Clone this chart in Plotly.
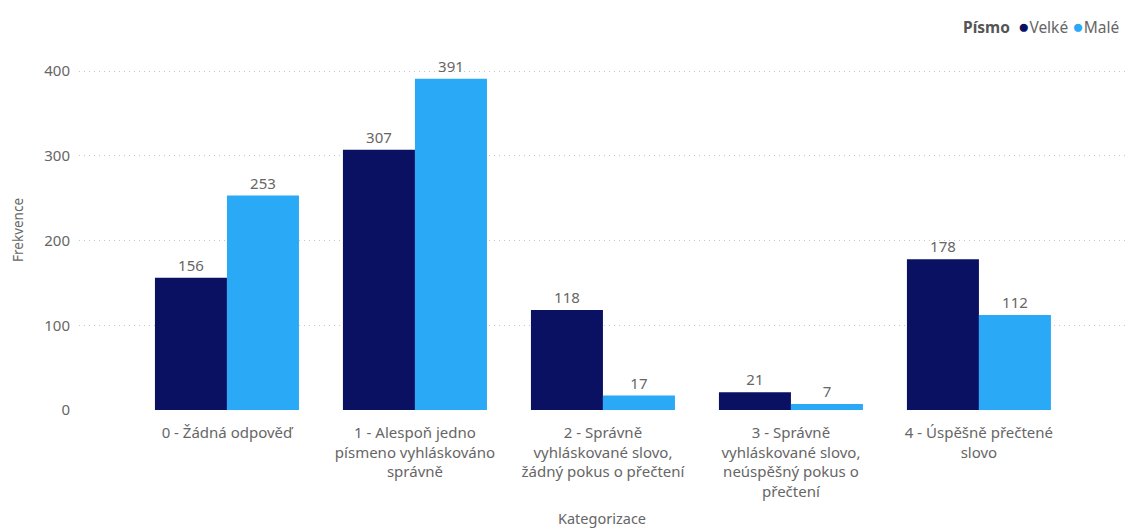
import plotly.graph_objects as go

categories = [
    "0 - Žádná odpověď",
    "1 - Alespoň jedno<br>písmeno vyhláskováno<br>správně",
    "2 - Správně<br>vyhláskované slovo,<br>žádný pokus o přečtení",
    "3 - Správně<br>vyhláskované slovo,<br>neúspěšný pokus o<br>přečtení",
    "4 - Úspěšně přečtené<br>slovo",
]
velke = [156, 307, 118, 21, 178]
male = [253, 391, 17, 7, 112]
y_ticks = [0, 100, 200, 300, 400]

COLOR_VELKE = "#0A1162"
COLOR_MALE = "#29A9F6"
TEXT_GRAY = "#666666"
FONT = "Segoe UI, Noto Sans, sans-serif"

x_pos = list(range(len(categories)))

fig = go.Figure()
for name, vals, color in [("Velké", velke, COLOR_VELKE), ("Malé", male, COLOR_MALE)]:
    fig.add_trace(go.Bar(
        x=x_pos, y=vals, name=name,
        marker=dict(color=color, line=dict(width=0)),
        text=[str(v) for v in vals], textposition="outside",
        textfont=dict(color=TEXT_GRAY, size=15, family=FONT),
        cliponaxis=False, showlegend=False,
    ))

fig.update_layout(
    width=1125, height=529,
    margin=dict(l=79, r=0, t=50, b=119),
    paper_bgcolor="white", plot_bgcolor="white",
    barmode="group", bargap=0.234, bargroupgap=0,
    font=dict(family=FONT, color=TEXT_GRAY, size=15),
    showlegend=False,
)

# legend drawn as a single line of text in the top-right corner
fig.add_annotation(
    xref="paper", yref="paper", x=1.0, y=1.0, yshift=24, xshift=-4,
    xanchor="right", yanchor="middle", showarrow=False,
    text=(
        "<b><span style='color:#555555'>Písmo</span></b>  "
        f"<span style='color:{COLOR_VELKE};font-size:19px'>●</span>Velké "
        f"<span style='color:{COLOR_MALE};font-size:19px'>●</span>Malé"
    ),
    font=dict(size=15.5, color=TEXT_GRAY, family=FONT),
)

fig.update_xaxes(
    tickmode="array", tickvals=x_pos, ticktext=categories,
    range=[-0.787, 4.777], showgrid=False, zeroline=False, showline=False,
    ticks="", ticklabelstandoff=12, tickfont=dict(size=15, color=TEXT_GRAY),
    title=dict(text="Kategorizace", font=dict(size=14.5, color=TEXT_GRAY), standoff=14),
)
fig.update_yaxes(
    tickmode="array", tickvals=y_ticks,
    range=[0, 424.8], showgrid=True, gridcolor="#C4C4C4", griddash="1px,4px",
    gridwidth=1, zeroline=False, showline=False, ticks="",
    ticklabelstandoff=8, tickfont=dict(size=15, color=TEXT_GRAY),
    title=dict(text="Frekvence", font=dict(size=13.5, color=TEXT_GRAY), standoff=17),
)

fig.write_html("out.html")
